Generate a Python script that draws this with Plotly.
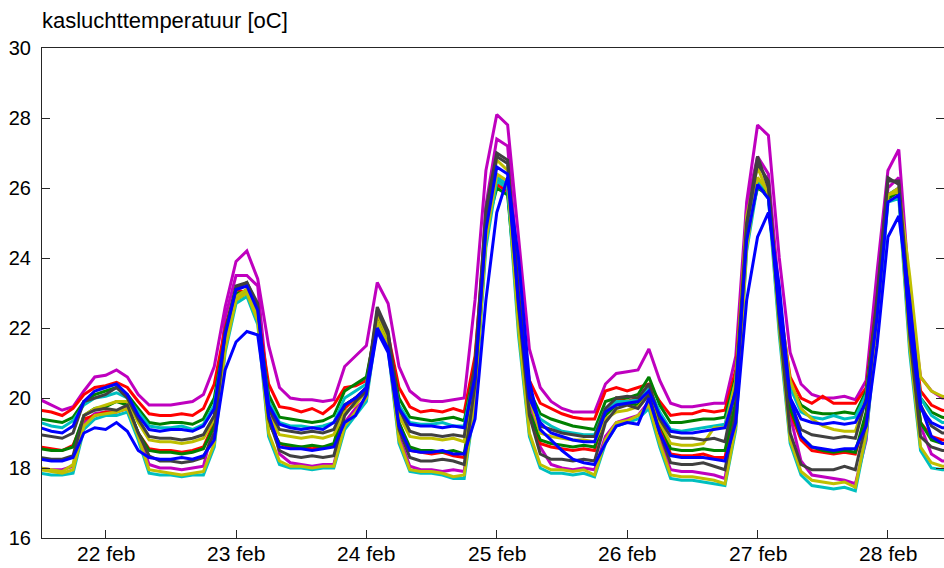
import plotly.graph_objects as go

# time axis: day-of-month (feb), 2-hour sampling starting 21 feb 12:00
start_day = 21.5
n_points = 85
times = [start_day + k / 12 for k in range(n_points)]

tick_vals = [22, 23, 24, 25, 26, 27, 28]
tick_text = ["22 feb", "23 feb", "24 feb", "25 feb", "26 feb", "27 feb", "28 feb"]

m1 = [19.95, 19.8, 19.65, 19.75, 20.2, 20.6, 20.65, 20.8, 20.6, 20.1, 19.8, 19.8,
      19.8, 19.85, 19.9, 20.1, 20.9, 22.6, 23.9, 24.2, 23.4, 21.5, 20.3, 20.0,
      19.95, 19.95, 19.9, 19.95, 20.9, 21.2, 21.5, 23.3, 22.7, 20.9, 20.2, 19.95,
      19.9, 19.9, 19.95, 20.0, 22.8, 26.5, 28.1, 27.8, 24.6, 21.4, 20.3, 19.9,
      19.7, 19.6, 19.6, 19.6, 20.4, 20.7, 20.75, 20.8, 21.4, 20.5, 19.85, 19.75,
      19.75, 19.8, 19.85, 19.85, 21.2, 25.6, 27.8, 27.5, 24.0, 21.3, 20.4, 20.1,
      20.0, 20.0, 20.05, 19.95, 20.5, 23.6, 26.5, 27.1, 23.0, 20.6, 20.2, 20.0,
      20.0]
r1 = [19.65, 19.6, 19.5, 19.7, 20.1, 20.3, 20.35, 20.45, 20.3, 19.9, 19.55, 19.5,
      19.5, 19.55, 19.5, 19.7, 20.4, 22.0, 23.1, 23.0, 22.4, 20.4, 19.75, 19.7,
      19.6, 19.7, 19.55, 19.8, 20.3, 20.35, 20.5, 22.3, 21.8, 20.3, 19.75, 19.6,
      19.65, 19.6, 19.7, 19.6, 21.2, 25.0, 26.1, 25.9, 22.6, 20.5, 19.85, 19.7,
      19.55, 19.45, 19.4, 19.4, 20.2, 20.3, 20.2, 20.3, 20.4, 19.9, 19.5, 19.55,
      19.55, 19.65, 19.6, 19.65, 20.8, 24.9, 26.1, 25.8, 22.7, 20.6, 20.0, 19.85,
      20.05, 19.85, 19.85, 19.85, 20.3, 22.8, 25.7, 25.9, 22.6, 20.2, 19.8, 19.65,
      19.6]
g1 = [19.4, 19.35, 19.3, 19.45, 19.9, 20.1, 20.2, 20.3, 20.1, 19.7, 19.3, 19.25,
      19.3, 19.3, 19.25, 19.4, 20.0, 21.8, 23.0, 23.0, 22.3, 20.1, 19.45, 19.4,
      19.35, 19.3, 19.35, 19.5, 20.2, 20.4, 20.6, 22.2, 21.6, 20.0, 19.45, 19.4,
      19.35, 19.4, 19.45, 19.35, 20.9, 24.8, 26.0, 25.8, 22.4, 20.2, 19.55, 19.4,
      19.3, 19.2, 19.15, 19.1, 19.9, 20.0, 20.0, 20.1, 20.6, 19.8, 19.3, 19.3,
      19.35, 19.4, 19.4, 19.45, 20.6, 24.7, 26.0, 25.8, 22.5, 20.4, 19.8, 19.6,
      19.55, 19.55, 19.6, 19.55, 20.2, 22.7, 25.8, 25.9, 22.3, 20.0, 19.6, 19.45,
      19.4]
c1 = [19.3, 19.2, 19.15, 19.35, 19.8, 20.0, 20.05, 20.15, 20.0, 19.6, 19.2, 19.15,
      19.15, 19.2, 19.1, 19.25, 19.8, 21.7, 22.9, 23.0, 22.3, 19.9, 19.3, 19.2,
      19.2, 19.15, 19.2, 19.3, 20.0, 20.2, 20.4, 22.1, 21.5, 19.8, 19.3, 19.25,
      19.25, 19.3, 19.2, 19.2, 20.8, 24.9, 26.3, 26.1, 22.5, 20.1, 19.4, 19.2,
      19.05, 19.0, 18.95, 18.95, 19.7, 19.9, 19.9, 19.95, 20.3, 19.6, 19.1, 19.05,
      19.1, 19.15, 19.2, 19.25, 20.5, 24.8, 26.2, 25.9, 22.5, 20.3, 19.6, 19.45,
      19.4, 19.5, 19.4, 19.45, 20.1, 22.6, 25.8, 26.0, 22.4, 20.0, 19.5, 19.3,
      19.3]
b1 = [19.15, 19.05, 19.0, 19.2, 19.9, 20.2, 20.3, 20.4, 20.1, 19.5, 19.1, 19.05,
      19.1, 19.1, 19.05, 19.2, 19.7, 21.8, 23.1, 23.2, 22.5, 19.8, 19.25, 19.15,
      19.1, 19.15, 19.1, 19.3, 19.8, 20.0, 20.3, 22.0, 21.4, 19.7, 19.25, 19.2,
      19.2, 19.15, 19.2, 19.15, 20.6, 24.8, 26.6, 26.4, 22.7, 20.0, 19.3, 19.0,
      18.9, 18.8, 18.75, 18.75, 19.6, 19.8, 19.85, 19.9, 20.2, 19.5, 19.05, 19.0,
      19.0, 19.05, 19.1, 19.15, 20.2, 24.5, 26.1, 25.7, 22.4, 20.0, 19.4, 19.3,
      19.25, 19.3, 19.25, 19.3, 19.9, 22.3, 25.6, 25.8, 22.0, 19.7, 19.3, 19.15,
      19.15]
k1 = [18.95, 18.9, 18.85, 19.0, 19.9, 20.0, 20.1, 20.3, 20.0, 19.4, 18.9, 18.85,
      18.85, 18.8, 18.85, 18.95, 19.5, 21.9, 23.1, 23.3, 22.6, 19.7, 19.1, 19.05,
      19.0, 19.05, 19.0, 19.1, 19.8, 20.0, 20.3, 22.6, 21.9, 19.7, 19.05, 18.95,
      18.95, 18.9, 18.95, 18.9, 21.0, 25.4, 27.0, 26.8, 23.0, 20.2, 19.2, 19.1,
      19.0, 18.95, 18.9, 18.9, 19.7, 20.0, 20.05, 20.0, 20.4, 19.4, 18.9, 18.85,
      18.85, 18.8, 18.85, 18.75, 20.3, 25.0, 26.9, 26.0, 22.6, 19.9, 19.1, 18.95,
      18.9, 18.85, 18.9, 18.85, 20.0, 22.9, 26.2, 26.2, 22.5, 19.8, 19.2, 19.0,
      19.0]
y1 = [18.0, 17.95, 17.9, 18.1, 19.5, 19.7, 19.8, 19.9, 19.9, 19.3, 18.8, 18.75,
      18.75, 18.7, 18.75, 18.85, 19.4, 21.6, 22.9, 23.1, 22.4, 19.5, 18.95, 18.9,
      18.85, 18.9, 18.85, 18.95, 19.6, 19.8, 20.2, 22.4, 21.7, 19.5, 18.9, 18.85,
      18.85, 18.8, 18.85, 18.75, 20.8, 25.2, 26.8, 26.5, 22.8, 20.0, 19.0, 18.9,
      18.85, 18.8, 18.8, 18.75, 19.4, 19.6, 19.65, 19.75, 20.1, 19.3, 18.7, 18.65,
      18.65, 18.7, 19.15, 19.15, 20.5, 25.2, 26.6, 25.8, 22.8, 20.5, 19.7, 19.4,
      19.2, 19.1, 19.05, 19.05, 20.0, 22.5, 25.8, 26.0, 23.5, 20.6, 20.2, 20.05,
      20.0]
g2 = [18.55, 18.5, 18.5, 18.6, 19.5, 19.7, 19.75, 19.9, 19.8, 19.0, 18.5, 18.45,
      18.45, 18.4, 18.45, 18.55, 19.2, 21.5, 22.8, 23.0, 22.3, 19.3, 18.7, 18.65,
      18.6, 18.65, 18.6, 18.7, 19.8, 20.0, 20.2, 22.2, 21.5, 19.3, 18.6, 18.5,
      18.5, 18.45, 18.5, 18.4, 20.3, 24.6, 26.2, 26.0, 22.3, 19.6, 18.8, 18.7,
      18.65, 18.6, 18.65, 18.6, 19.5, 19.8, 19.85, 19.8, 20.2, 19.3, 18.55, 18.5,
      18.5, 18.55, 18.5, 18.5, 19.9, 24.6, 26.1, 25.8, 22.3, 19.7, 18.9, 18.6,
      18.5, 18.45, 18.5, 18.45, 19.6, 22.3, 25.7, 25.9, 21.8, 19.3, 18.8, 18.7,
      18.7]
r2 = [18.6, 18.55, 18.5, 18.65, 19.4, 19.5, 19.6, 19.6, 19.7, 19.0, 18.55, 18.5,
      18.5, 18.45, 18.5, 18.6, 19.3, 21.6, 22.9, 23.1, 22.4, 19.3, 18.7, 18.6,
      18.6, 18.55, 18.6, 18.65, 19.7, 20.0, 20.2, 22.3, 21.6, 19.3, 18.5, 18.45,
      18.4, 18.45, 18.35, 18.3, 20.3, 24.7, 26.3, 26.1, 22.4, 19.5, 18.7, 18.6,
      18.55, 18.5, 18.55, 18.5, 19.6, 20.0, 19.9, 20.0, 20.1, 19.2, 18.4, 18.35,
      18.35, 18.4, 18.3, 18.3, 19.8, 24.7, 26.2, 25.9, 22.4, 19.6, 18.8, 18.5,
      18.45, 18.4, 18.45, 18.4, 19.5, 22.4, 25.8, 26.0, 21.9, 19.3, 18.9, 18.8,
      18.8]
b2 = [18.25, 18.2, 18.2, 18.3, 19.0, 19.15, 19.1, 19.3, 19.05, 18.5, 18.3, 18.25,
      18.25, 18.3, 18.25, 18.35, 18.8, 20.8, 21.6, 21.9, 21.8, 19.5, 18.6, 18.55,
      18.55, 18.5, 18.55, 18.6, 19.3, 19.5, 20.1, 21.9, 21.3, 19.2, 18.5, 18.45,
      18.45, 18.5, 18.4, 18.4, 19.4, 22.8, 25.3, 26.3, 24.0, 20.5, 19.1, 18.8,
      18.5, 18.25, 18.15, 18.1, 18.7, 19.2, 19.3, 19.25, 20.0, 19.0, 18.35, 18.3,
      18.3, 18.3, 18.25, 18.2, 19.3, 22.8, 24.6, 25.3, 23.2, 20.0, 18.9, 18.6,
      18.55, 18.5, 18.55, 18.55, 19.2, 21.5, 24.6, 25.2, 22.8, 19.8, 18.9, 18.7,
      18.7]
k2 = [18.3, 18.25, 18.25, 18.35, 19.5, 19.65, 19.7, 19.65, 19.8, 19.0, 18.35, 18.2,
      18.2, 18.15, 18.2, 18.3, 19.0, 21.9, 23.2, 23.3, 22.7, 19.4, 18.5, 18.35,
      18.3, 18.35, 18.3, 18.35, 19.5, 19.9, 20.2, 22.5, 21.8, 19.1, 18.3, 18.2,
      18.2, 18.25, 18.2, 18.1, 20.4, 25.0, 26.9, 26.7, 22.6, 19.5, 18.4, 18.25,
      18.25, 18.2, 18.25, 18.2, 19.3, 19.7, 19.8, 19.7, 20.1, 19.0, 18.15, 18.1,
      18.1, 18.15, 18.05, 17.95, 19.6, 24.9, 26.7, 26.2, 22.2, 19.0, 18.1, 17.95,
      17.95, 17.95, 18.05, 17.95, 19.3, 22.7, 26.3, 26.1, 21.8, 18.9, 18.6, 18.5,
      18.5]
m2 = [18.0, 17.95, 17.95, 18.05, 19.3, 19.55, 19.6, 19.6, 19.75, 19.0, 18.1, 18.0,
      18.0, 17.95, 18.0, 18.05, 19.3, 22.3, 23.5, 23.5, 23.2, 20.0, 18.4, 18.15,
      18.1, 18.05, 18.1, 18.1, 19.3, 19.7, 20.0, 22.4, 21.7, 18.9, 18.05, 17.95,
      17.95, 17.9, 17.95, 17.9, 20.5, 25.5, 27.4, 27.2, 23.5, 20.0, 18.6, 18.1,
      18.0, 17.95, 18.0, 17.95, 18.9, 19.3, 19.4, 19.5, 19.9, 18.8, 17.95, 17.9,
      17.9, 17.85, 17.8, 17.7, 19.5, 25.5, 26.9, 26.4, 23.0, 19.5, 18.2, 17.8,
      17.75, 17.7, 17.65, 17.55, 18.8, 22.5, 26.0, 26.3, 22.0, 19.2, 18.4, 18.2,
      18.2]
y2 = [17.95, 17.9, 17.85, 17.95, 19.2, 19.5, 19.55, 19.6, 19.7, 18.9, 17.95, 17.9,
      17.85, 17.8, 17.85, 17.9, 18.7, 21.4, 22.8, 23.0, 22.2, 19.0, 18.2, 18.05,
      18.05, 18.0, 18.05, 18.05, 19.2, 19.6, 20.0, 22.2, 21.5, 18.8, 17.95, 17.9,
      17.9, 17.85, 17.75, 17.8, 20.0, 24.5, 26.4, 26.2, 22.0, 19.0, 18.1, 17.95,
      17.95, 17.9, 17.95, 17.8, 18.8, 19.3, 19.35, 19.5, 19.8, 18.7, 17.8, 17.75,
      17.75, 17.7, 17.65, 17.55, 19.2, 24.3, 26.3, 25.9, 22.0, 18.8, 17.9, 17.65,
      17.6, 17.55, 17.6, 17.45, 19.0, 22.2, 25.8, 25.9, 21.5, 18.6, 18.15, 18.05,
      18.05]
c2 = [17.85, 17.8, 17.8, 17.85, 19.1, 19.4, 19.5, 19.5, 19.6, 18.8, 17.85, 17.8,
      17.8, 17.75, 17.8, 17.8, 18.6, 21.3, 22.7, 22.9, 22.1, 18.9, 18.1, 18.0,
      18.0, 17.95, 18.0, 18.0, 19.1, 19.5, 19.9, 22.1, 21.4, 18.7, 17.9, 17.85,
      17.85, 17.8, 17.7, 17.7, 19.9, 24.3, 26.2, 26.0, 21.8, 18.9, 18.0, 17.85,
      17.85, 17.8, 17.85, 17.75, 18.7, 19.2, 19.3, 19.4, 19.7, 18.6, 17.7, 17.65,
      17.65, 17.6, 17.55, 17.5, 19.1, 24.2, 26.1, 25.7, 21.8, 18.7, 17.8, 17.5,
      17.45, 17.4, 17.45, 17.35, 18.9, 22.0, 25.6, 25.7, 21.3, 18.5, 18.0, 17.95,
      17.95]

MAGENTA = "#BF00BF"
RED = "#FF0000"
GREEN = "#008000"
CYAN = "#00BFBF"
OLIVE = "#BFBF00"
GRAY = "#404040"
BLUE = "#0000FF"

series = [
    ("m1", m1, MAGENTA), ("m2", m2, MAGENTA),
    ("r1", r1, RED), ("r2", r2, RED),
    ("g1", g1, GREEN), ("g2", g2, GREEN),
    ("c1", c1, CYAN), ("c2", c2, CYAN),
    ("y1", y1, OLIVE), ("y2", y2, OLIVE),
    ("k1", k1, GRAY), ("k2", k2, GRAY),
    ("b1", b1, BLUE), ("b2", b2, BLUE),
]

fig = go.Figure()
for name, vals, col in series:
    fig.add_trace(go.Scatter(x=times, y=vals, mode="lines", name=name,
                             line=dict(color=col, width=3), showlegend=False,
                             hoverinfo="skip"))

axis_col = "#262626"
font_fam = "Liberation Sans, Arial, Helvetica, sans-serif"

fig.update_layout(
    width=944, height=568,
    margin=dict(l=42, r=0, t=48, b=30, autoexpand=False),
    paper_bgcolor="white", plot_bgcolor="white",
    font=dict(family=font_fam, size=20, color="black"),
    showlegend=False,
)
fig.update_xaxes(
    range=[21.512, 28.43], tickvals=tick_vals, showticklabels=False,
    ticks="inside", ticklen=8, tickwidth=1, tickcolor=axis_col,
    showline=True, linecolor=axis_col, linewidth=1, mirror=True,
    showgrid=False, zeroline=False,
)
fig.update_yaxes(
    range=[16, 30], tickvals=[16, 18, 20, 22, 24, 26, 28, 30],
    ticks="inside", ticklen=8, tickwidth=1, tickcolor=axis_col,
    showline=True, linecolor=axis_col, linewidth=1, mirror="ticks",
    showgrid=False, zeroline=False, tickfont=dict(size=20),
    ticklabelstandoff=6,
)
# x tick labels as text just below the axis
for tv, tt in zip(tick_vals, tick_text):
    fig.add_annotation(
        text=tt, x=tv, y=0, xref="x", yref="paper",
        xanchor="center", yanchor="top", yshift=-2, showarrow=False,
        font=dict(size=21, color="black", family=font_fam),
    )
fig.add_annotation(
    text="kasluchttemperatuur [oC]", x=0, y=1, xref="paper", yref="paper",
    xanchor="left", yanchor="bottom", yshift=13, xshift=-2, showarrow=False,
    font=dict(size=22, color="black", family=font_fam),
)

page_css = ("document.body.style.margin='0';"
            "document.body.style.overflow='hidden';"
            "document.documentElement.style.overflow='hidden';")
fig.write_html("out.html", post_script=page_css,
               config={"displayModeBar": False, "staticPlot": True})
